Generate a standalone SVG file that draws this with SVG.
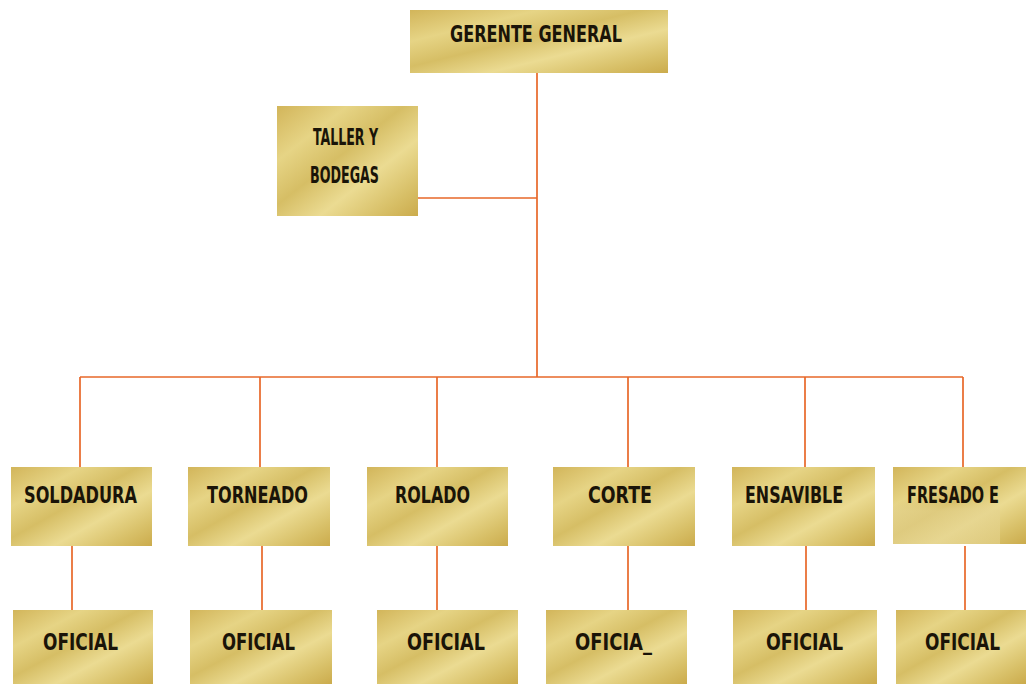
<svg xmlns="http://www.w3.org/2000/svg" width="1026" height="684" viewBox="0 0 1026 684">
  <defs>
    <linearGradient id="gold" x1="0" y1="0" x2="1" y2="1">
      <stop offset="0" stop-color="#d2b55a"/>
      <stop offset="0.25" stop-color="#e6d485"/>
      <stop offset="0.45" stop-color="#d6be65"/>
      <stop offset="0.65" stop-color="#ebdb92"/>
      <stop offset="0.85" stop-color="#d8c068"/>
      <stop offset="1" stop-color="#cbab4c"/>
    </linearGradient>
    <!-- paler wash used in the lower-left corner of the FRESADO box -->
    <linearGradient id="wash" x1="0" y1="0" x2="0" y2="1">
      <stop offset="0" stop-color="#e4d390" stop-opacity="0"/>
      <stop offset="0.25" stop-color="#e4d390" stop-opacity="0.6"/>
      <stop offset="1" stop-color="#e4d390" stop-opacity="0.6"/>
    </linearGradient>
    <style>
      .box { fill: url(#gold); }
      .lbl { font-family: "DejaVu Sans Condensed", "Liberation Sans Narrow", "Liberation Sans", sans-serif; font-weight: bold; font-size: 23px; fill: #1a1408; }
      .wire { stroke: #e8682a; stroke-width: 1.7; fill: none; }
    </style>
  </defs>
  <rect width="1026" height="684" fill="#ffffff"/>

  <g id="connectors">
    <path class="wire" d="M537 73 V377 M418 198 H537 M80 377 H963"/>
    <path class="wire" d="M80 377 V467 M260 377 V467 M437 377 V467 M628 377 V467 M805 377 V467 M963 377 V467"/>
    <path class="wire" d="M72 546 V610 M262 546 V610 M437 546 V610 M628 546 V610 M806 546 V610 M965 546 V610"/>
  </g>

  <g id="gerente">
    <rect class="box" x="410" y="10" width="258" height="63"/>
    <text class="lbl" x="450" y="42" textLength="172" lengthAdjust="spacingAndGlyphs">GERENTE GENERAL</text>
  </g>

  <g id="taller">
    <rect class="box" x="277" y="106" width="141" height="110"/>
    <text class="lbl" x="313" y="145" textLength="65" lengthAdjust="spacingAndGlyphs">TALLER Y</text>
    <text class="lbl" x="310" y="183" textLength="69" lengthAdjust="spacingAndGlyphs">BODEGAS</text>
  </g>

  <g id="soldadura">
    <rect class="box" x="11" y="467" width="141" height="79"/>
    <text class="lbl" x="24" y="503" textLength="113" lengthAdjust="spacingAndGlyphs">SOLDADURA</text>
  </g>
  <g id="torneado">
    <rect class="box" x="188" y="467" width="142" height="79"/>
    <text class="lbl" x="207" y="503" textLength="101" lengthAdjust="spacingAndGlyphs">TORNEADO</text>
  </g>
  <g id="rolado">
    <rect class="box" x="367" y="467" width="141" height="79"/>
    <text class="lbl" x="395" y="503" textLength="75" lengthAdjust="spacingAndGlyphs">ROLADO</text>
  </g>
  <g id="corte">
    <rect class="box" x="553" y="467" width="142" height="79"/>
    <text class="lbl" x="588" y="503" textLength="64" lengthAdjust="spacingAndGlyphs">CORTE</text>
  </g>
  <g id="ensamble">
    <rect class="box" x="732" y="467" width="143" height="79"/>
    <text class="lbl" x="745" y="503" textLength="98" lengthAdjust="spacingAndGlyphs">ENSAVIBLE</text>
  </g>
  <g id="fresado">
    <path d="M893 467 H1026 V544 H893 Z" fill="url(#gold)"/>
    <path d="M893 500 H1000 V544 H893 Z" fill="url(#wash)"/>
    <text class="lbl" x="907" y="503" font-size="19" textLength="92" lengthAdjust="spacingAndGlyphs">FRESADO E</text>
  </g>

  <g id="oficial-1">
    <rect class="box" x="13" y="610" width="140" height="74"/>
    <text class="lbl" x="43" y="650" textLength="75" lengthAdjust="spacingAndGlyphs">OFICIAL</text>
  </g>
  <g id="oficial-2">
    <rect class="box" x="190" y="610" width="142" height="74"/>
    <text class="lbl" x="222" y="650" textLength="73" lengthAdjust="spacingAndGlyphs">OFICIAL</text>
  </g>
  <g id="oficial-3">
    <rect class="box" x="377" y="610" width="141" height="74"/>
    <text class="lbl" x="407" y="650" textLength="78" lengthAdjust="spacingAndGlyphs">OFICIAL</text>
  </g>
  <g id="oficial-4">
    <rect class="box" x="546" y="610" width="141" height="74"/>
    <text class="lbl" x="575" y="650" textLength="77" lengthAdjust="spacingAndGlyphs">OFICIA_</text>
  </g>
  <g id="oficial-5">
    <rect class="box" x="733" y="610" width="144" height="74"/>
    <text class="lbl" x="766" y="650" textLength="77" lengthAdjust="spacingAndGlyphs">OFICIAL</text>
  </g>
  <g id="oficial-6">
    <rect class="box" x="896" y="610" width="130" height="74"/>
    <text class="lbl" x="925" y="650" textLength="75" lengthAdjust="spacingAndGlyphs">OFICIAL</text>
  </g>
</svg>
